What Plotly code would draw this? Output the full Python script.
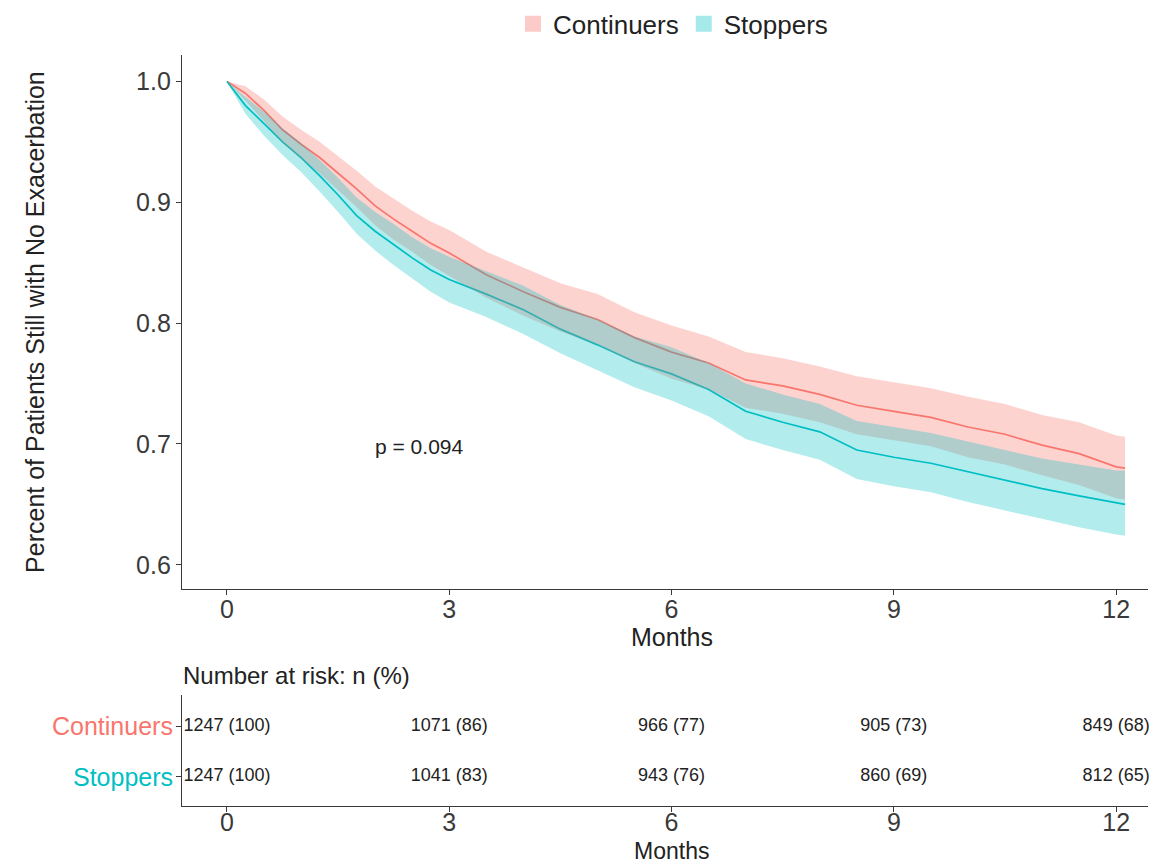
import plotly.graph_objects as go

# ---------------- data ----------------
months = [0, 0.25, 0.5, 0.75, 1.0, 1.25, 1.5, 1.75, 2.0, 2.25, 2.5, 2.75, 3.0,
          3.5, 4.0, 4.5, 5.0, 5.5, 6.0, 6.5, 7.0, 7.5, 8.0, 8.5, 9.0, 9.5,
          10.0, 10.5, 11.0, 11.5, 12.0, 12.12]

continuers_surv = [1.000, 0.990, 0.976, 0.960, 0.948, 0.937, 0.924, 0.911, 0.897,
                   0.886, 0.876, 0.866, 0.858, 0.840, 0.826, 0.813, 0.803, 0.788,
                   0.776, 0.767, 0.753, 0.748, 0.741, 0.732, 0.727, 0.722, 0.714,
                   0.708, 0.699, 0.692, 0.681, 0.680]
continuers_upper = [1.000, 0.996, 0.985, 0.971, 0.960, 0.950, 0.938, 0.926, 0.913,
                    0.903, 0.893, 0.884, 0.877, 0.859, 0.846, 0.833, 0.824, 0.809,
                    0.798, 0.789, 0.776, 0.771, 0.764, 0.756, 0.751, 0.746, 0.739,
                    0.733, 0.724, 0.718, 0.707, 0.706]
continuers_lower = [1.000, 0.984, 0.967, 0.949, 0.936, 0.924, 0.910, 0.896, 0.881,
                    0.869, 0.859, 0.848, 0.839, 0.821, 0.806, 0.793, 0.782, 0.767,
                    0.754, 0.745, 0.730, 0.725, 0.718, 0.708, 0.703, 0.698, 0.689,
                    0.683, 0.674, 0.666, 0.655, 0.654]

stoppers_surv = [1.000, 0.980, 0.965, 0.950, 0.937, 0.922, 0.906, 0.889, 0.876,
                 0.865, 0.854, 0.844, 0.836, 0.824, 0.811, 0.795, 0.782, 0.768,
                 0.758, 0.745, 0.727, 0.718, 0.710, 0.695, 0.689, 0.684, 0.677,
                 0.670, 0.663, 0.657, 0.651, 0.650]
stoppers_upper = [1.000, 0.987, 0.975, 0.961, 0.949, 0.935, 0.920, 0.904, 0.892,
                  0.882, 0.871, 0.862, 0.855, 0.843, 0.831, 0.815, 0.803, 0.789,
                  0.780, 0.767, 0.750, 0.741, 0.733, 0.719, 0.714, 0.709, 0.702,
                  0.695, 0.688, 0.683, 0.678, 0.678]
stoppers_lower = [1.000, 0.973, 0.955, 0.939, 0.925, 0.909, 0.892, 0.874, 0.860,
                  0.848, 0.837, 0.826, 0.817, 0.805, 0.791, 0.775, 0.761, 0.747,
                  0.736, 0.723, 0.704, 0.695, 0.687, 0.671, 0.665, 0.660, 0.652,
                  0.645, 0.638, 0.631, 0.625, 0.624]

groups = ["Continuers", "Stoppers"]
risk_times = [0, 3, 6, 9, 12]
continuers_n = [1247, 1071, 966, 905, 849]
continuers_pct = [100, 86, 77, 73, 68]
stoppers_n = [1247, 1041, 943, 860, 812]
stoppers_pct = [100, 83, 76, 69, 65]

x_ticks = [0, 3, 6, 9, 12]
y_ticks = [0.6, 0.7, 0.8, 0.9, 1.0]
p_text = "p = 0.094"

# ---------------- styling ----------------
W, H = 1153, 867
RED = "#F8766D"
TEAL = "#00BFC4"
RED_FILL = "rgba(248,118,109,0.32)"
TEAL_FILL = "rgba(0,191,196,0.30)"
AX = "#3a3a3a"
FONT = "Liberation Sans, Arial, sans-serif"


def px_x(p):
    return p / W


def px_y(p):
    return 1 - p / H


fig = go.Figure()

# survival lines (drawn first, bands on top as in the reference)
fig.add_trace(go.Scatter(x=months, y=continuers_surv, mode="lines",
                         line=dict(color=RED, width=1.7), showlegend=False,
                         hoverinfo="skip"))
fig.add_trace(go.Scatter(x=months, y=stoppers_surv, mode="lines",
                         line=dict(color=TEAL, width=1.7), showlegend=False,
                         hoverinfo="skip"))

# confidence bands
fig.add_trace(go.Scatter(x=months + months[::-1],
                         y=continuers_upper + continuers_lower[::-1],
                         mode="lines", fill="toself", fillcolor=RED_FILL,
                         line=dict(width=0), showlegend=False, hoverinfo="skip"))
fig.add_trace(go.Scatter(x=months + months[::-1],
                         y=stoppers_upper + stoppers_lower[::-1],
                         mode="lines", fill="toself", fillcolor=TEAL_FILL,
                         line=dict(width=0), showlegend=False, hoverinfo="skip"))

# legend entries
for name, fillc in zip(groups, ["rgba(248,118,109,0.38)", "rgba(0,191,196,0.35)"]):
    fig.add_trace(go.Scatter(x=[None], y=[None], mode="markers", name=name,
                             marker=dict(symbol="square", size=19, color=fillc,
                                         line=dict(width=0))))

# risk table text
for yv, ns, ps in [(2, continuers_n, continuers_pct), (1, stoppers_n, stoppers_pct)]:
    fig.add_trace(go.Scatter(x=risk_times, y=[yv] * len(risk_times), mode="text",
                             text=[f"{n} ({p})" for n, p in zip(ns, ps)],
                             textfont=dict(size=18, color="#222", family=FONT),
                             xaxis="x2", yaxis="y2", showlegend=False,
                             cliponaxis=False, hoverinfo="skip"))

x_range = [-0.607, 12.43]
axis_common = dict(showgrid=False, zeroline=False, showline=True, linecolor=AX,
                   linewidth=1.3, ticks="outside", ticklen=5, tickcolor=AX,
                   tickwidth=1.2, tickfont=dict(size=25, color=AX, family=FONT))

fig.update_layout(
    width=W, height=H,
    margin=dict(l=0, r=0, t=0, b=0),
    paper_bgcolor="white", plot_bgcolor="white",
    font=dict(family=FONT, color=AX),
    showlegend=True,
    legend=dict(orientation="h", x=px_x(673), xanchor="center",
                y=px_y(21), yanchor="middle", font=dict(size=26, color="#222"),
                itemwidth=30, bgcolor="rgba(0,0,0,0)"),
    xaxis=dict(domain=[px_x(182), px_x(1148)], range=x_range, anchor="y",
               tickvals=x_ticks, ticklabelstandoff=-7, **axis_common),
    yaxis=dict(domain=[px_y(588), px_y(52)], range=[0.580, 1.022], anchor="x",
               tickvals=y_ticks, tickformat=".1f", **axis_common),
    xaxis2=dict(domain=[px_x(182), px_x(1148)], range=x_range, anchor="y2",
                tickvals=x_ticks, ticklabelstandoff=-11, **axis_common),
    yaxis2=dict(domain=[px_y(806), px_y(694)], range=[0.41, 2.63], anchor="x2",
                tickvals=[1, 2], showticklabels=False,
                **{k: v for k, v in axis_common.items() if k != "tickfont"}),
)

annotations = [
    dict(text="Percent of Patients Still with No Exacerbation", xref="paper",
         yref="paper", x=px_x(35), y=px_y(320), textangle=-90, showarrow=False,
         font=dict(size=25, color="#222"), xanchor="center", yanchor="middle"),
    dict(text="Months", xref="x", yref="paper", x=6, y=px_y(636), showarrow=False,
         font=dict(size=25, color="#222"), xanchor="center", yanchor="middle"),
    dict(text="Months", xref="x2", yref="paper", x=6, y=px_y(851), showarrow=False,
         font=dict(size=23, color="#222"), xanchor="center", yanchor="middle"),
    dict(text="Number at risk: n (%)", xref="paper", yref="paper", x=px_x(181),
         y=px_y(675), showarrow=False, font=dict(size=24, color="#222"),
         xanchor="left", yanchor="middle"),
    dict(text=p_text, xref="x", yref="y", x=1.97, y=0.698, showarrow=False,
         font=dict(size=21, color="#222"), xanchor="left", yanchor="middle"),
    dict(text=groups[0], xref="paper", yref="y2", x=px_x(175), y=2,
         showarrow=False, font=dict(size=25, color=RED), xanchor="right",
         yanchor="middle"),
    dict(text=groups[1], xref="paper", yref="y2", x=px_x(175), y=1,
         showarrow=False, font=dict(size=25, color=TEAL), xanchor="right",
         yanchor="middle"),
]
fig.update_layout(annotations=annotations)

fig.write_html(
    "out.html",
    config={"displayModeBar": False},
    post_script="document.body.style.margin='0';"
                "document.documentElement.style.overflow='hidden';"
                "document.body.style.overflow='hidden';",
)
